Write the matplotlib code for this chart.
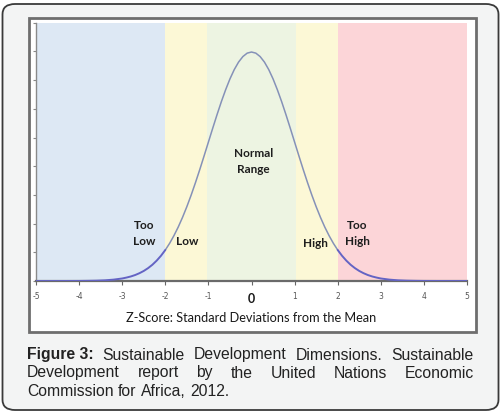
import matplotlib
matplotlib.use("Agg")
import matplotlib.pyplot as plt
from matplotlib.patches import FancyBboxPatch, Rectangle

# ---- data ----
z_values = [-5.0, -4.5, -4.0, -3.8, -3.6, -3.4, -3.2, -3.0, -2.9, -2.8, -2.7, -2.6, -2.5,
            -2.4, -2.3, -2.2, -2.1, -2.0, -1.9, -1.8, -1.7, -1.6, -1.5, -1.4, -1.3, -1.2,
            -1.1, -1.0, -0.9, -0.8, -0.7, -0.6, -0.5, -0.4, -0.3, -0.2, -0.1, 0.0,
            0.1, 0.2, 0.3, 0.4, 0.5, 0.6, 0.7, 0.8, 0.9, 1.0, 1.1, 1.2, 1.3, 1.4, 1.5,
            1.6, 1.7, 1.8, 1.9, 2.0, 2.1, 2.2, 2.3, 2.4, 2.5, 2.6, 2.7, 2.8, 2.9, 3.0,
            3.2, 3.4, 3.6, 3.8, 4.0, 4.5, 5.0]
density = [0.0, 0.0, 0.0001, 0.0003, 0.0006, 0.0012, 0.0024, 0.0044, 0.0060, 0.0079,
           0.0104, 0.0136, 0.0175, 0.0224, 0.0283, 0.0355, 0.0440, 0.0540, 0.0656, 0.0790,
           0.0940, 0.1109, 0.1295, 0.1497, 0.1714, 0.1942, 0.2179, 0.2420, 0.2661, 0.2897,
           0.3123, 0.3332, 0.3521, 0.3683, 0.3814, 0.3910, 0.3970, 0.3989,
           0.3970, 0.3910, 0.3814, 0.3683, 0.3521, 0.3332, 0.3123, 0.2897, 0.2661, 0.2420,
           0.2179, 0.1942, 0.1714, 0.1497, 0.1295, 0.1109, 0.0940, 0.0790, 0.0656, 0.0540,
           0.0440, 0.0355, 0.0283, 0.0224, 0.0175, 0.0136, 0.0104, 0.0079, 0.0060, 0.0044,
           0.0024, 0.0012, 0.0006, 0.0003, 0.0001, 0.0, 0.0]

band_starts = [-5, -2, -1.03, 1.03, 2]
band_ends = [-2, -1.03, 1.03, 2, 5]
band_colors = ["#dde8f4", "#fcf8d6", "#edf4e2", "#fcf8d6", "#fcd5d8"]

zone_labels = ["Too\nLow", "Low", "Normal\nRange", "High", "Too\nHigh"]
zone_x = [-2.5, -1.5, 0.05, 1.48, 2.45]
zone_y = [0.082, 0.068, 0.208, 0.066, 0.082]

x_ticks = [-5, -4, -3, -2, -1, 0, 1, 2, 3, 4, 5]
y_ticks = [0, 0.05, 0.1, 0.15, 0.2, 0.25, 0.3, 0.35, 0.4, 0.45]

xlabel = "Z-Score: Standard Deviations from the Mean"
caption_bold = "Figure 3:"
caption_lines = [
    "Sustainable Development Dimensions. Sustainable",
    "Development report by the United Nations Economic",
    "Commission for Africa, 2012.",
]

W, H = 501, 413
fig = plt.figure(figsize=(W / 100, H / 100), dpi=100)
fig.patch.set_facecolor("white")

def fx(px):
    return px / W

def fy(py):
    return 1 - py / H

# outer rounded panel
outer = FancyBboxPatch((fx(2.5), fy(410)), fx(496), (408 - 2) / H,
                       boxstyle="round,pad=0,rounding_size=0.025",
                       transform=fig.transFigure, facecolor="#f3f4f4",
                       edgecolor="#3a3a3a", linewidth=1.3, zorder=0)
fig.patches.append(outer)
# inner white chart frame
frame = Rectangle((fx(28.5), fy(331.5)), fx(447), (331.5 - 17.5) / H,
                  transform=fig.transFigure, facecolor="white",
                  edgecolor="#6e6e6e", linewidth=2.0, zorder=1)
fig.patches.append(frame)

ax = fig.add_axes([fx(36), fy(281), fx(467 - 36), (281 - 22.7) / H])
ax.set_facecolor("none")
ax.set_zorder(2)

for s, e, c in zip(band_starts, band_ends, band_colors):
    ax.axvspan(s, e, color=c, lw=0, zorder=0)

# curve: grey-blue core, purple-blue tails
core = [(z, d) for z, d in zip(z_values, density) if -2.0 <= z <= 2.0]
left = [(z, d) for z, d in zip(z_values, density) if z <= -2.0]
right = [(z, d) for z, d in zip(z_values, density) if z >= 2.0]
ax.plot([p[0] for p in core], [p[1] for p in core], color="#8591b8", lw=1.1, zorder=3,
        solid_capstyle="round", solid_joinstyle="round")
ax.plot([p[0] for p in left], [p[1] for p in left], color="#6464c4", lw=1.4, zorder=3,
        solid_capstyle="round", solid_joinstyle="round")
ax.plot([p[0] for p in right], [p[1] for p in right], color="#6464c4", lw=1.4, zorder=3,
        solid_capstyle="round", solid_joinstyle="round")

ax.set_xlim(-5, 5)
ax.set_ylim(0, 0.45)
ax.set_xticks(x_ticks)
ax.set_xticklabels([("" if t == 0 else str(t)) for t in x_ticks],
                   fontsize=5.5, color="#555555", family="DejaVu Sans")
ax.set_yticks(y_ticks)
ax.set_yticklabels([])
ax.tick_params(axis="x", direction="out", length=3, width=0.8, color="#666666", pad=5)
ax.tick_params(axis="y", direction="out", length=2.5, width=0.8, color="#888888")
for side in ["top", "right"]:
    ax.spines[side].set_visible(False)
ax.spines["left"].set_color("#8a8a8a")
ax.spines["left"].set_linewidth(1.0)
ax.spines["bottom"].set_color("#6a6a6a")
ax.spines["bottom"].set_linewidth(1.6)

# bold zero label
ax.text(0, -0.032, "0", ha="center", va="center", fontsize=9, fontweight="bold",
        color="#1a1a1a", family="Lato")
ax.set_xlabel(xlabel, fontsize=9.2, family="Lato", color="#1a1a1a", labelpad=8)

for lbl, x, y in zip(zone_labels, zone_x, zone_y):
    ax.text(x, y, lbl, ha="center", va="center", fontsize=8.5, fontweight="bold",
            family="Lato", color="#1e1e1e", linespacing=1.55)

# justified caption
cap_fs = 11.3
left_px, right_px = 27, 474
line_base = [359.5, 377.5, 395.5]
renderer = fig.canvas.get_renderer()

def measure(txt, bold=False):
    t = fig.text(0, 0, txt, fontsize=cap_fs, family="Liberation Sans",
                 fontweight="bold" if bold else "normal")
    w = t.get_window_extent(renderer).width
    t.remove()
    return w

space_w = measure("a b") - measure("ab")
for i, line in enumerate(caption_lines):
    words = line.split(" ")
    items = [(w, False) for w in words]
    if i == 0:
        items = [(caption_bold, True)] + items
    widths = [measure(w, b) for w, b in items]
    last = i == len(caption_lines) - 1
    if last:
        gap = space_w
    else:
        gap = (right_px - left_px - sum(widths)) / (len(items) - 1)
    x = left_px
    for (w, b), wd in zip(items, widths):
        fig.text(fx(x), fy(line_base[i]), w, fontsize=cap_fs, family="Liberation Sans",
                 fontweight="bold" if b else "normal", color="#222222",
                 va="baseline", ha="left")
        x += wd + gap

fig.savefig("out.png", dpi=100)
